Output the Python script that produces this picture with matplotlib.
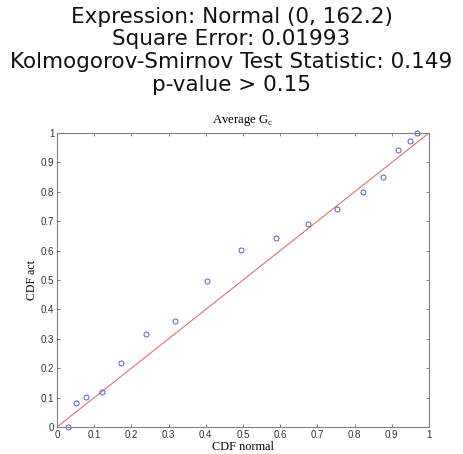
import numpy as np
import matplotlib
matplotlib.use("Agg")
from matplotlib import pyplot as plt

# CDF of the fitted normal vs the empirical CDF
cdf_normal = [0.029, 0.050, 0.079, 0.120, 0.172, 0.238, 0.316, 0.404, 0.495,
              0.589, 0.676, 0.754, 0.822, 0.876, 0.918, 0.948, 0.969]
cdf_act = [0.0, 0.080, 0.101, 0.119, 0.218, 0.315, 0.361, 0.498, 0.601,
           0.644, 0.691, 0.743, 0.801, 0.849, 0.943, 0.972, 1.0]
ticks = [0, 0.1, 0.2, 0.3, 0.4, 0.5, 0.6, 0.7, 0.8, 0.9, 1]
tick_labels = ["0", "0.1", "0.2", "0.3", "0.4", "0.5", "0.6", "0.7", "0.8", "0.9", "1"]

header = ["Expression: Normal (0, 162.2)",
          "Square Error: 0.01993",
          "Kolmogorov-Smirnov Test Statistic: 0.149",
          "p-value > 0.15"]

W, H = 463, 454
fig = plt.figure(figsize=(W / 100, H / 100), dpi=100)
ax = fig.add_axes([57 / W, 1 - 427 / H, 372 / W, 294 / H])

# header lines, baselines ~22.7 px apart
for i, line in enumerate(header):
    fig.text(0.5, 1 - (22.7 + 22.7 * i) / H, line, ha="center", va="baseline",
             fontsize=15.5, family="DejaVu Sans", color="#111111")

ax.plot([0, 1], [0, 1], color="#e07070", lw=0.8)
ax.plot(cdf_normal, cdf_act, linestyle="none", marker="o", ms=3.6,
        mfc="none", mec="#5a5acc", mew=0.7, clip_on=False)

ax.set_xlim(0, 1)
ax.set_ylim(0, 1)
ax.set_xticks(ticks)
ax.set_yticks(ticks)
ax.set_xticklabels(tick_labels)
ax.set_yticklabels(tick_labels)
ax.tick_params(direction="in", length=2, width=0.6, top=True, right=True,
               labelsize=7, pad=2, colors="#666666", labelcolor="#333333")
for lbl in ax.get_xticklabels() + ax.get_yticklabels():
    lbl.set_family("Liberation Sans")
for s in ax.spines.values():
    s.set_color("#808080")
    s.set_linewidth(0.8)

ax.set_title("Average G$_\\mathregular{c}$", family="Liberation Serif",
             fontsize=9.2, pad=7)
ax.set_xlabel("CDF normal", family="Liberation Serif", fontsize=8.8, labelpad=1)
ax.set_ylabel("CDF act", family="Liberation Serif", fontsize=8.5, labelpad=2)

fig.savefig("out.png", dpi=100)
